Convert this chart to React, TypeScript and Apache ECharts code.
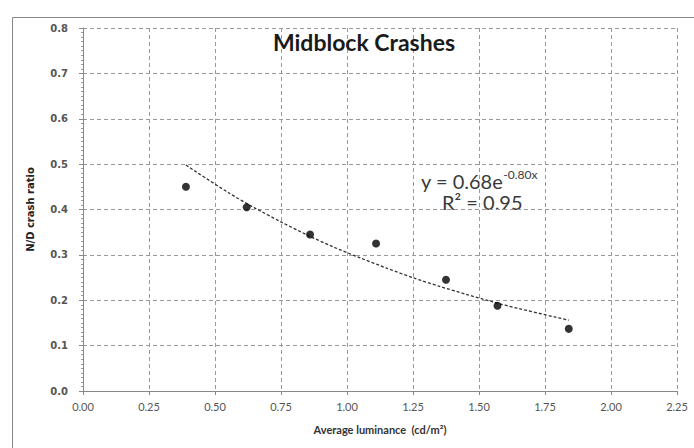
import React, { useEffect, useRef } from "react";
import * as echarts from "echarts";

const luminance = [0.39, 0.62, 0.86, 1.11, 1.375, 1.57, 1.84];
const crashRatio = [0.45, 0.405, 0.345, 0.325, 0.245, 0.188, 0.137];
const trendX = [0.39, 0.5, 0.6, 0.7, 0.8, 0.9, 1.0, 1.1, 1.2, 1.3, 1.4, 1.5, 1.6, 1.7, 1.84];
const trendY = [0.498, 0.456, 0.42, 0.388, 0.358, 0.33, 0.305, 0.282, 0.26, 0.24, 0.222, 0.205, 0.189, 0.175, 0.156];

export default function App() {
  const ref = useRef<HTMLDivElement>(null);
  useEffect(() => {
    if (!ref.current) return;
    const chart = echarts.init(ref.current, null, { renderer: "svg" });
    chart.setOption({
      animation: false,
      backgroundColor: "#ffffff",
      grid: { left: 83, top: 28, right: 17, bottom: 57, containLabel: false },
      title: {
        text: "Midblock Crashes",
        left: 359,
        top: 25,
        textAlign: "center",
        textStyle: { fontFamily: "Lato", fontWeight: "bold", fontSize: 23, color: "#1a1a1a" },
      },
      xAxis: {
        type: "value",
        min: 0,
        max: 2.25,
        interval: 0.25,
        name: "Average luminance  (cd/m²)",
        nameLocation: "middle",
        nameGap: 33,
        nameTextStyle: { fontFamily: "Lato", fontSize: 11, color: "#333", fontWeight: "bold" },
        axisLine: { show: true, lineStyle: { color: "#888", width: 1 } },
        axisTick: { show: true, inside: false, length: 4, lineStyle: { color: "#888" } },
        axisLabel: {
          fontFamily: "Lato",
          fontSize: 11,
          color: "#555",
          margin: 10,
          formatter: (v: number) => v.toFixed(2),
        },
        splitLine: { show: true, lineStyle: { color: "#999", type: [4, 3], width: 1 } },
      },
      yAxis: {
        type: "value",
        min: 0,
        max: 0.8,
        interval: 0.1,
        name: "N/D crash ratio",
        nameLocation: "middle",
        nameGap: 48,
        nameTextStyle: { fontFamily: "DejaVu Sans", fontSize: 10, color: "#222", fontWeight: "bold" },
        axisLine: { show: true, lineStyle: { color: "#888", width: 1 } },
        axisTick: { show: true, length: 4, lineStyle: { color: "#888" } },
        minorTick: { show: true, splitNumber: 10, length: 2, lineStyle: { color: "#999" } },
        axisLabel: {
          fontFamily: "DejaVu Sans",
          fontSize: 10,
          color: "#555",
          fontWeight: "bold",
          margin: 15,
          formatter: (v: number) => v.toFixed(1),
        },
        splitLine: { show: true, lineStyle: { color: "#999", type: [4, 3], width: 1 } },
      },
      series: [
        {
          type: "line",
          data: trendX.map((x, i) => [x, trendY[i]]),
          smooth: true,
          showSymbol: false,
          symbol: "none",
          lineStyle: { color: "#333", width: 1.3, type: [3, 2] },
          z: 2,
        },
        {
          type: "scatter",
          data: luminance.map((x, i) => [x, crashRatio[i]]),
          symbol: "circle",
          symbolSize: 8,
          itemStyle: { color: "#000" },
          z: 3,
        },
      ],
      graphic: [
        {
          type: "rect",
          shape: { x: 12.5, y: 17.5, width: 720, height: 480 },
          style: { fill: "none", stroke: "#888", lineWidth: 1 },
          silent: true,
        },
        {
          type: "text",
          x: 421,
          y: 168,
          style: {
            text: "{b|y = 0.68e}{s|-0.80x}",
            rich: {
              b: { fontFamily: "Lato", fontSize: 20, fill: "#3a3a3a", verticalAlign: "bottom" },
              s: { fontFamily: "Lato", fontSize: 12, fill: "#3a3a3a", verticalAlign: "top", padding: [0, 0, 11, 0] },
            },
          },
        },
        {
          type: "text",
          x: 442,
          y: 192,
          style: {
            text: "R² = 0.95",
            fontFamily: "Lato",
            fontSize: 20,
            fill: "#3a3a3a",
          },
        },
      ],
    });
    return () => chart.dispose();
  }, []);
  return (
    <div
      ref={ref}
      style={{ position: "fixed", left: 0, top: 0, width: 694, height: 448, background: "#fff" }}
    />
  );
}
